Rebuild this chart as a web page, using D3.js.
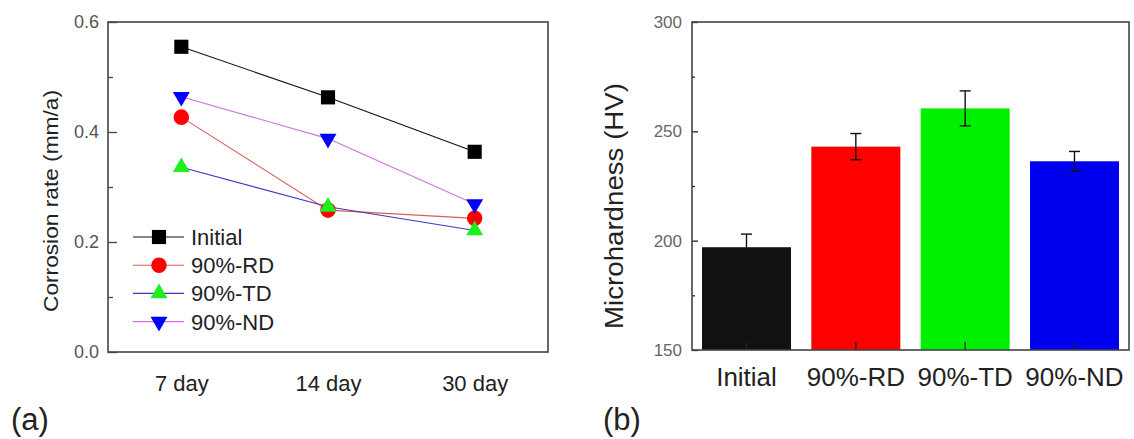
<!DOCTYPE html>
<html>
<head>
<meta charset="utf-8">
<script src="https://cdn.jsdelivr.net/npm/d3@7"></script>
<style>
  html, body { margin: 0; padding: 0; background: #fff; }
  svg { display: block; font-family: "Liberation Sans", Arial, sans-serif; }
</style>
</head>
<body>
<svg id="fig" width="1134" height="439"></svg>
<script>
// (a) corrosion rate by immersion time
const days = ["7 day", "14 day", "30 day"];
const seriesNames = ["Initial", "90%-RD", "90%-TD", "90%-ND"];
const rateInitial = [0.555, 0.463, 0.364];
const rateRD = [0.427, 0.258, 0.243];
const rateTD = [0.336, 0.264, 0.221];
const rateND = [0.464, 0.388, 0.269];
const rateTicks = [0, 0.2, 0.4, 0.6];
const rateMinor = [0.1, 0.3, 0.5];

// (b) microhardness per sample
const samples = ["Initial", "90%-RD", "90%-TD", "90%-ND"];
const hardness = [197, 243, 260.5, 236.3];
const hardnessErr = [6, 6, 8, 4.5];
const hvTicks = [150, 200, 250, 300];
const hvMinor = [175, 225, 275];

const svg = d3.select("#fig");
svg.append("rect").attr("width", 1134).attr("height", 439).attr("fill", "#fff");

const FRAME = "#444", TICKTXT = "#555", INK = "#222";
const FONT = "Liberation Sans, Arial, sans-serif";

// ---------- panel (a) ----------
const A = { l: 108, r: 548, t: 22, b: 352 };
const x = d3.scalePoint().domain(days).range([A.l, A.r]).padding(0.5);
const y = d3.scaleLinear().domain([0, 0.6]).range([A.b, A.t]);

const gA = svg.append("g");

const yAx = gA.append("g").attr("transform", `translate(${A.l},0)`)
  .call(d3.axisLeft(y).tickValues(rateTicks).tickFormat(d3.format(".1f"))
    .tickSize(-9).tickPadding(9));
const yAxMin = gA.append("g").attr("transform", `translate(${A.l},0)`)
  .call(d3.axisLeft(y).tickValues(rateMinor).tickFormat("").tickSize(-5));
const xAx = gA.append("g").attr("transform", `translate(0,${A.b})`)
  .call(d3.axisBottom(x).tickSize(0).tickPadding(23));

[yAx, yAxMin, xAx].forEach(g => {
  g.select(".domain").remove();
  g.selectAll("line").attr("stroke", FRAME).attr("stroke-width", 1.3);
});
yAx.selectAll("text").attr("font-size", 18).attr("fill", TICKTXT).attr("font-family", FONT);
xAx.selectAll("text").attr("font-size", 22).attr("fill", INK).attr("font-family", FONT);

gA.append("rect").attr("x", A.l).attr("y", A.t)
  .attr("width", A.r - A.l).attr("height", A.b - A.t)
  .attr("fill", "none").attr("stroke", FRAME).attr("stroke-width", 1.6);

gA.append("text")
  .attr("transform", `translate(58,201) rotate(-90)`)
  .attr("text-anchor", "middle").attr("font-size", 21).attr("fill", INK)
  .attr("textLength", 222).attr("lengthAdjust", "spacingAndGlyphs")
  .text("Corrosion rate (mm/a)");

const series = [
  { name: seriesNames[0], values: rateInitial, line: "#111", fill: "#000", sym: d3.symbolSquare, size: 200, rot: 0 },
  { name: seriesNames[1], values: rateRD, line: "#e05a5a", fill: "#ff0000", sym: d3.symbolCircle, size: 190, rot: 0 },
  { name: seriesNames[2], values: rateTD, line: "#3a3ac0", fill: "#1fef1f", sym: d3.symbolTriangle, size: 125, rot: 0 },
  { name: seriesNames[3], values: rateND, line: "#cf72e0", fill: "#0000ff", sym: d3.symbolTriangle, size: 125, rot: 180 },
];

const line = d3.line().x((d, i) => x(days[i])).y(d => y(d));

series.forEach(s => {
  gA.append("path").attr("d", line(s.values))
    .attr("fill", "none").attr("stroke", s.line).attr("stroke-width", 1.1);
  gA.selectAll(null).data(s.values).join("path")
    .attr("transform", (d, i) => `translate(${x(days[i])},${y(d)}) rotate(${s.rot})`)
    .attr("d", d3.symbol(s.sym, s.size)())
    .attr("fill", s.fill);
});

// legend
const leg = gA.append("g");
series.forEach((s, i) => {
  const ly = 237 + i * 28.2;
  leg.append("line").attr("x1", 133).attr("x2", 184).attr("y1", ly).attr("y2", ly)
    .attr("stroke", s.line).attr("stroke-width", 1.1);
  leg.append("path").attr("transform", `translate(159,${ly}) rotate(${s.rot})`)
    .attr("d", d3.symbol(s.sym, s.size)()).attr("fill", s.fill);
  leg.append("text").attr("x", 191).attr("y", ly).attr("dy", "0.36em")
    .attr("font-size", 22).attr("fill", INK).text(s.name);
});

svg.append("text").attr("x", 11).attr("y", 430).attr("font-size", 31)
  .attr("fill", INK).text("(a)");

// ---------- panel (b) ----------
const B = { l: 692, r: 1129, t: 22, b: 350 };
const xb = d3.scaleBand().domain(samples).range([B.l, B.r])
  .paddingInner(0.186).paddingOuter(0.0915);
const yb = d3.scaleLinear().domain([150, 300]).range([B.b, B.t]);
const barColors = ["#111111", "#ff0000", "#00f000", "#0000f0"];

const gB = svg.append("g");

gB.selectAll("rect.bar").data(hardness).join("rect").attr("class", "bar")
  .attr("x", (d, i) => xb(samples[i])).attr("width", xb.bandwidth())
  .attr("y", d => yb(d)).attr("height", d => yb(150) - yb(d))
  .attr("fill", (d, i) => barColors[i]);

const ybAx = gB.append("g").attr("transform", `translate(${B.l},0)`)
  .call(d3.axisLeft(yb).tickValues(hvTicks).tickSize(-6).tickPadding(10));
const ybMin = gB.append("g").attr("transform", `translate(${B.l},0)`)
  .call(d3.axisLeft(yb).tickValues(hvMinor).tickFormat("").tickSize(-3));
const xbAx = gB.append("g").attr("transform", `translate(0,${B.b})`)
  .call(d3.axisBottom(xb).tickSize(-8).tickPadding(18));

[ybAx, ybMin, xbAx].forEach(g => {
  g.select(".domain").remove();
  g.selectAll("line").attr("stroke", "#222").attr("stroke-width", 1.3);
});
ybAx.selectAll("text").attr("font-size", 17).attr("fill", "#666").attr("font-family", FONT);
xbAx.selectAll("text").attr("font-size", 26).attr("fill", INK).attr("font-family", FONT);

// error bars
const eb = gB.append("g").attr("stroke", "#111").attr("stroke-width", 1.4);
hardness.forEach((v, i) => {
  const cx = xb(samples[i]) + xb.bandwidth() / 2;
  const hi = yb(v + hardnessErr[i]), lo = yb(v - hardnessErr[i]);
  eb.append("line").attr("x1", cx).attr("x2", cx).attr("y1", hi).attr("y2", lo);
  eb.append("line").attr("x1", cx - 5.5).attr("x2", cx + 5.5).attr("y1", hi).attr("y2", hi);
  eb.append("line").attr("x1", cx - 5.5).attr("x2", cx + 5.5).attr("y1", lo).attr("y2", lo);
});

gB.append("rect").attr("x", B.l).attr("y", B.t)
  .attr("width", B.r - B.l).attr("height", B.b - B.t)
  .attr("fill", "none").attr("stroke", FRAME).attr("stroke-width", 1.6);

gB.append("text")
  .attr("transform", `translate(623,206) rotate(-90)`)
  .attr("text-anchor", "middle").attr("font-size", 26).attr("fill", INK)
  .attr("textLength", 246).attr("lengthAdjust", "spacingAndGlyphs")
  .text("Microhardness (HV)");

svg.append("text").attr("x", 603).attr("y", 430).attr("font-size", 31)
  .attr("fill", INK).text("(b)");
</script>
</body>
</html>
